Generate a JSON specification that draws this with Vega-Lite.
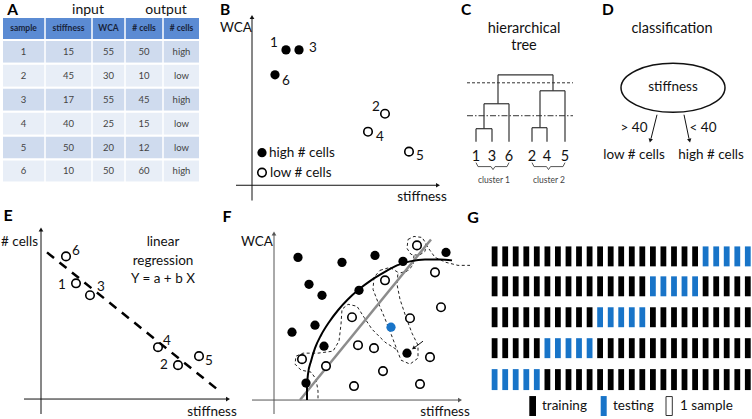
{
"$schema":"https://vega.github.io/schema/vega-lite/v6.json",
"width":752,"height":419,
"autosize":{"type":"fit","contains":"padding"},
"padding":0,
"background":"white",
"config":{"view":{"stroke":null},"font":"Lato"},
"resolve":{"scale":{"color":"independent"}},
"datasets":{
"bars":[
{"x":491.7,"x2":497.5,"y":247,"y2":267,"k":"tr"},{"x":502.3,"x2":508.1,"y":247,"y2":267,"k":"tr"},{"x":512.8,"x2":518.6,"y":247,"y2":267,"k":"tr"},{"x":523.4,"x2":529.2,"y":247,"y2":267,"k":"tr"},{"x":533.9,"x2":539.7,"y":247,"y2":267,"k":"tr"},
{"x":544.5,"x2":550.3,"y":247,"y2":267,"k":"tr"},{"x":555.0,"x2":560.8,"y":247,"y2":267,"k":"tr"},{"x":565.6,"x2":571.4,"y":247,"y2":267,"k":"tr"},{"x":576.1,"x2":581.9,"y":247,"y2":267,"k":"tr"},{"x":586.7,"x2":592.5,"y":247,"y2":267,"k":"tr"},
{"x":597.2,"x2":603.0,"y":247,"y2":267,"k":"tr"},{"x":607.8,"x2":613.6,"y":247,"y2":267,"k":"tr"},{"x":618.3,"x2":624.1,"y":247,"y2":267,"k":"tr"},{"x":628.9,"x2":634.7,"y":247,"y2":267,"k":"tr"},{"x":639.4,"x2":645.2,"y":247,"y2":267,"k":"tr"},
{"x":650.0,"x2":655.8,"y":247,"y2":267,"k":"tr"},{"x":660.5,"x2":666.3,"y":247,"y2":267,"k":"tr"},{"x":671.1,"x2":676.9,"y":247,"y2":267,"k":"tr"},{"x":681.6,"x2":687.4,"y":247,"y2":267,"k":"tr"},{"x":692.2,"x2":698.0,"y":247,"y2":267,"k":"tr"},
{"x":702.7,"x2":708.5,"y":247,"y2":267,"k":"te"},{"x":713.3,"x2":719.1,"y":247,"y2":267,"k":"te"},{"x":723.8,"x2":729.6,"y":247,"y2":267,"k":"te"},{"x":734.4,"x2":740.2,"y":247,"y2":267,"k":"te"},{"x":744.9,"x2":750.7,"y":247,"y2":267,"k":"te"},
{"x":491.7,"x2":497.5,"y":277,"y2":297,"k":"tr"},{"x":502.3,"x2":508.1,"y":277,"y2":297,"k":"tr"},{"x":512.8,"x2":518.6,"y":277,"y2":297,"k":"tr"},{"x":523.4,"x2":529.2,"y":277,"y2":297,"k":"tr"},{"x":533.9,"x2":539.7,"y":277,"y2":297,"k":"tr"},
{"x":544.5,"x2":550.3,"y":277,"y2":297,"k":"tr"},{"x":555.0,"x2":560.8,"y":277,"y2":297,"k":"tr"},{"x":565.6,"x2":571.4,"y":277,"y2":297,"k":"tr"},{"x":576.1,"x2":581.9,"y":277,"y2":297,"k":"tr"},{"x":586.7,"x2":592.5,"y":277,"y2":297,"k":"tr"},
{"x":597.2,"x2":603.0,"y":277,"y2":297,"k":"tr"},{"x":607.8,"x2":613.6,"y":277,"y2":297,"k":"tr"},{"x":618.3,"x2":624.1,"y":277,"y2":297,"k":"tr"},{"x":628.9,"x2":634.7,"y":277,"y2":297,"k":"tr"},{"x":639.4,"x2":645.2,"y":277,"y2":297,"k":"tr"},
{"x":650.0,"x2":655.8,"y":277,"y2":297,"k":"te"},{"x":660.5,"x2":666.3,"y":277,"y2":297,"k":"te"},{"x":671.1,"x2":676.9,"y":277,"y2":297,"k":"te"},{"x":681.6,"x2":687.4,"y":277,"y2":297,"k":"te"},{"x":692.2,"x2":698.0,"y":277,"y2":297,"k":"te"},
{"x":702.7,"x2":708.5,"y":277,"y2":297,"k":"tr"},{"x":713.3,"x2":719.1,"y":277,"y2":297,"k":"tr"},{"x":723.8,"x2":729.6,"y":277,"y2":297,"k":"tr"},{"x":734.4,"x2":740.2,"y":277,"y2":297,"k":"tr"},{"x":744.9,"x2":750.7,"y":277,"y2":297,"k":"tr"},
{"x":491.7,"x2":497.5,"y":308,"y2":328,"k":"tr"},{"x":502.3,"x2":508.1,"y":308,"y2":328,"k":"tr"},{"x":512.8,"x2":518.6,"y":308,"y2":328,"k":"tr"},{"x":523.4,"x2":529.2,"y":308,"y2":328,"k":"tr"},{"x":533.9,"x2":539.7,"y":308,"y2":328,"k":"tr"},
{"x":544.5,"x2":550.3,"y":308,"y2":328,"k":"tr"},{"x":555.0,"x2":560.8,"y":308,"y2":328,"k":"tr"},{"x":565.6,"x2":571.4,"y":308,"y2":328,"k":"tr"},{"x":576.1,"x2":581.9,"y":308,"y2":328,"k":"tr"},{"x":586.7,"x2":592.5,"y":308,"y2":328,"k":"tr"},
{"x":597.2,"x2":603.0,"y":308,"y2":328,"k":"te"},{"x":607.8,"x2":613.6,"y":308,"y2":328,"k":"te"},{"x":618.3,"x2":624.1,"y":308,"y2":328,"k":"te"},{"x":628.9,"x2":634.7,"y":308,"y2":328,"k":"te"},{"x":639.4,"x2":645.2,"y":308,"y2":328,"k":"te"},
{"x":650.0,"x2":655.8,"y":308,"y2":328,"k":"tr"},{"x":660.5,"x2":666.3,"y":308,"y2":328,"k":"tr"},{"x":671.1,"x2":676.9,"y":308,"y2":328,"k":"tr"},{"x":681.6,"x2":687.4,"y":308,"y2":328,"k":"tr"},{"x":692.2,"x2":698.0,"y":308,"y2":328,"k":"tr"},
{"x":702.7,"x2":708.5,"y":308,"y2":328,"k":"tr"},{"x":713.3,"x2":719.1,"y":308,"y2":328,"k":"tr"},{"x":723.8,"x2":729.6,"y":308,"y2":328,"k":"tr"},{"x":734.4,"x2":740.2,"y":308,"y2":328,"k":"tr"},{"x":744.9,"x2":750.7,"y":308,"y2":328,"k":"tr"},
{"x":491.7,"x2":497.5,"y":339,"y2":359,"k":"tr"},{"x":502.3,"x2":508.1,"y":339,"y2":359,"k":"tr"},{"x":512.8,"x2":518.6,"y":339,"y2":359,"k":"tr"},{"x":523.4,"x2":529.2,"y":339,"y2":359,"k":"tr"},{"x":533.9,"x2":539.7,"y":339,"y2":359,"k":"tr"},
{"x":544.5,"x2":550.3,"y":339,"y2":359,"k":"te"},{"x":555.0,"x2":560.8,"y":339,"y2":359,"k":"te"},{"x":565.6,"x2":571.4,"y":339,"y2":359,"k":"te"},{"x":576.1,"x2":581.9,"y":339,"y2":359,"k":"te"},{"x":586.7,"x2":592.5,"y":339,"y2":359,"k":"te"},
{"x":597.2,"x2":603.0,"y":339,"y2":359,"k":"tr"},{"x":607.8,"x2":613.6,"y":339,"y2":359,"k":"tr"},{"x":618.3,"x2":624.1,"y":339,"y2":359,"k":"tr"},{"x":628.9,"x2":634.7,"y":339,"y2":359,"k":"tr"},{"x":639.4,"x2":645.2,"y":339,"y2":359,"k":"tr"},
{"x":650.0,"x2":655.8,"y":339,"y2":359,"k":"tr"},{"x":660.5,"x2":666.3,"y":339,"y2":359,"k":"tr"},{"x":671.1,"x2":676.9,"y":339,"y2":359,"k":"tr"},{"x":681.6,"x2":687.4,"y":339,"y2":359,"k":"tr"},{"x":692.2,"x2":698.0,"y":339,"y2":359,"k":"tr"},
{"x":702.7,"x2":708.5,"y":339,"y2":359,"k":"tr"},{"x":713.3,"x2":719.1,"y":339,"y2":359,"k":"tr"},{"x":723.8,"x2":729.6,"y":339,"y2":359,"k":"tr"},{"x":734.4,"x2":740.2,"y":339,"y2":359,"k":"tr"},{"x":744.9,"x2":750.7,"y":339,"y2":359,"k":"tr"},
{"x":491.7,"x2":497.5,"y":370,"y2":391,"k":"te"},{"x":502.3,"x2":508.1,"y":370,"y2":391,"k":"te"},{"x":512.8,"x2":518.6,"y":370,"y2":391,"k":"te"},{"x":523.4,"x2":529.2,"y":370,"y2":391,"k":"te"},{"x":533.9,"x2":539.7,"y":370,"y2":391,"k":"te"},
{"x":544.5,"x2":550.3,"y":370,"y2":391,"k":"tr"},{"x":555.0,"x2":560.8,"y":370,"y2":391,"k":"tr"},{"x":565.6,"x2":571.4,"y":370,"y2":391,"k":"tr"},{"x":576.1,"x2":581.9,"y":370,"y2":391,"k":"tr"},{"x":586.7,"x2":592.5,"y":370,"y2":391,"k":"tr"},
{"x":597.2,"x2":603.0,"y":370,"y2":391,"k":"tr"},{"x":607.8,"x2":613.6,"y":370,"y2":391,"k":"tr"},{"x":618.3,"x2":624.1,"y":370,"y2":391,"k":"tr"},{"x":628.9,"x2":634.7,"y":370,"y2":391,"k":"tr"},{"x":639.4,"x2":645.2,"y":370,"y2":391,"k":"tr"},
{"x":650.0,"x2":655.8,"y":370,"y2":391,"k":"tr"},{"x":660.5,"x2":666.3,"y":370,"y2":391,"k":"tr"},{"x":671.1,"x2":676.9,"y":370,"y2":391,"k":"tr"},{"x":681.6,"x2":687.4,"y":370,"y2":391,"k":"tr"},{"x":692.2,"x2":698.0,"y":370,"y2":391,"k":"tr"},
{"x":702.7,"x2":708.5,"y":370,"y2":391,"k":"tr"},{"x":713.3,"x2":719.1,"y":370,"y2":391,"k":"tr"},{"x":723.8,"x2":729.6,"y":370,"y2":391,"k":"tr"},{"x":734.4,"x2":740.2,"y":370,"y2":391,"k":"tr"},{"x":744.9,"x2":750.7,"y":370,"y2":391,"k":"tr"},
{"x":529.3,"x2":536,"y":397,"y2":417,"k":"tr"},{"x":600.7,"x2":606.7,"y":397,"y2":417,"k":"te"}
]
},
"encoding":{
"x":{"field":"x","type":"quantitative","scale":{"domain":[0,752],"nice":false,"zero":false},"axis":null},
"y":{"field":"y","type":"quantitative","scale":{"domain":[0,419],"reverse":true,"nice":false,"zero":false},"axis":null}
},
"layer":[
{"data":{"values":[
{"x":2,"x2":200,"y":17,"y2":40,"k":"h"},{"x":2,"x2":200,"y":40,"y2":64,"k":"a"},{"x":2,"x2":200,"y":64,"y2":88,"k":"b"},{"x":2,"x2":200,"y":88,"y2":112,"k":"a"},{"x":2,"x2":200,"y":112,"y2":136,"k":"b"},{"x":2,"x2":200,"y":136,"y2":160,"k":"a"},{"x":2,"x2":200,"y":160,"y2":183,"k":"b"}]},
"mark":{"type":"rect","stroke":"white","strokeWidth":2},
"encoding":{"x2":{"field":"x2"},"y2":{"field":"y2"},"color":{"field":"k","type":"nominal","scale":{"domain":["h","a","b"],"range":["#5b8bd3","#cfdbee","#e8eef7"]},"legend":null}}},
{"data":{"values":[{"x":45,"y":17,"x2":45,"y2":183},{"x":92,"y":17,"x2":92,"y2":183},{"x":125,"y":17,"x2":125,"y2":183},{"x":163,"y":17,"x2":163,"y2":183}]},
"mark":{"type":"rule","color":"white","strokeWidth":1.5},
"encoding":{"x2":{"field":"x2"},"y2":{"field":"y2"}}},
{"data":{"values":[{"x":23.5,"y":28.5,"t":"sample"},{"x":68.5,"y":28.5,"t":"stiffness"},{"x":108.5,"y":28.5,"t":"WCA"},{"x":144,"y":28.5,"t":"# cells"},{"x":181.5,"y":28.5,"t":"# cells"}]},
"mark":{"type":"text","fontSize":8.5,"fontWeight":"bold","color":"#18233a","align":"center","baseline":"middle"},
"encoding":{"text":{"field":"t"}}},
{"data":{"values":[
{"x":23.5,"y":52,"t":"1"},{"x":68.5,"y":52,"t":"15"},{"x":108.5,"y":52,"t":"55"},{"x":144,"y":52,"t":"50"},{"x":181.5,"y":52,"t":"high"},
{"x":23.5,"y":76,"t":"2"},{"x":68.5,"y":76,"t":"45"},{"x":108.5,"y":76,"t":"30"},{"x":144,"y":76,"t":"10"},{"x":181.5,"y":76,"t":"low"},
{"x":23.5,"y":100,"t":"3"},{"x":68.5,"y":100,"t":"17"},{"x":108.5,"y":100,"t":"55"},{"x":144,"y":100,"t":"45"},{"x":181.5,"y":100,"t":"high"},
{"x":23.5,"y":124,"t":"4"},{"x":68.5,"y":124,"t":"40"},{"x":108.5,"y":124,"t":"25"},{"x":144,"y":124,"t":"15"},{"x":181.5,"y":124,"t":"low"},
{"x":23.5,"y":148,"t":"5"},{"x":68.5,"y":148,"t":"50"},{"x":108.5,"y":148,"t":"20"},{"x":144,"y":148,"t":"12"},{"x":181.5,"y":148,"t":"low"},
{"x":23.5,"y":171.5,"t":"6"},{"x":68.5,"y":171.5,"t":"10"},{"x":108.5,"y":171.5,"t":"50"},{"x":144,"y":171.5,"t":"60"},{"x":181.5,"y":171.5,"t":"high"}]},
"mark":{"type":"text","fontSize":9.5,"color":"#444444","align":"center","baseline":"middle"},
"encoding":{"text":{"field":"t"}}},
{"data":{"values":[{"x":12.5,"y":3,"t":"A"},{"x":225,"y":3,"t":"B"},{"x":466,"y":3,"t":"C"},{"x":608,"y":3,"t":"D"}]},
"mark":{"type":"text","fontSize":15.5,"fontWeight":"bold","color":"#000000","align":"center","baseline":"top"},
"encoding":{"text":{"field":"t"}}},
{"data":{"values":[{"x":8,"y":217,"t":"E"},{"x":227,"y":218,"t":"F"},{"x":473,"y":219,"t":"G"}]},
"mark":{"type":"text","fontSize":16,"fontWeight":"bold","color":"#000000","align":"center","baseline":"middle"},
"encoding":{"text":{"field":"t"}}},
{"data":{"values":[{"x":88,"y":3,"t":"input"},{"x":166,"y":3,"t":"output"}]},
"mark":{"type":"text","fontSize":14,"color":"#111111","align":"center","baseline":"top"},
"encoding":{"text":{"field":"t"}}},
{"data":{"values":[{"x":524,"y":29,"t":"hierarchical"},{"x":524,"y":46,"t":"tree"},{"x":672,"y":29,"t":"classification"},
{"x":476,"y":157,"t":"1"},{"x":492,"y":157,"t":"3"},{"x":509,"y":157,"t":"6"},{"x":532,"y":157,"t":"2"},{"x":547,"y":157,"t":"4"},{"x":565,"y":157,"t":"5"}]},
"mark":{"type":"text","fontSize":14.5,"color":"#111111","align":"center","baseline":"middle"},
"encoding":{"text":{"field":"t"}}},
{"data":{"values":[{"x":236,"y":28,"t":"WCA"},{"x":422,"y":197,"t":"stiffness"},
{"x":274,"y":43,"t":"1"},{"x":313,"y":48,"t":"3"},{"x":286,"y":81,"t":"6"},{"x":376,"y":107,"t":"2"},{"x":380,"y":137,"t":"4"},{"x":420,"y":156,"t":"5"},
{"x":673,"y":87,"t":"stiffness"},{"x":634,"y":128,"t":"> 40"},{"x":703,"y":128,"t":"< 40"},{"x":634,"y":155,"t":"low # cells"},{"x":711,"y":155,"t":"high # cells"},
{"x":19.5,"y":243,"t":"# cells"},{"x":212,"y":413,"t":"stiffness"},
{"x":76,"y":252,"t":"6"},{"x":62,"y":286,"t":"1"},{"x":101,"y":288,"t":"3"},{"x":167,"y":342,"t":"4"},{"x":164,"y":366,"t":"2"},{"x":209,"y":362,"t":"5"},
{"x":163,"y":243,"t":"linear"},{"x":163,"y":262,"t":"regression"},{"x":163,"y":280,"t":"Y = a + b X"},
{"x":257,"y":243,"t":"WCA"},{"x":445,"y":413,"t":"stiffness"}]},
"mark":{"type":"text","fontSize":13.5,"color":"#111111","align":"center","baseline":"middle"},
"encoding":{"text":{"field":"t"}}},
{"data":{"values":[{"x":269,"y":153,"t":"high # cells"},{"x":270,"y":173,"t":"low # cells"},{"x":542,"y":407,"t":"training"},{"x":613,"y":407,"t":"testing"},{"x":680,"y":407,"t":"1 sample"}]},
"mark":{"type":"text","fontSize":13.5,"color":"#111111","align":"left","baseline":"middle"},
"encoding":{"text":{"field":"t"}}},
{"data":{"values":[{"x":494,"y":180,"t":"cluster 1"},{"x":549,"y":180,"t":"cluster 2"}]},
"mark":{"type":"text","fontSize":8.5,"color":"#444444","align":"center","baseline":"middle"},
"encoding":{"text":{"field":"t"}}},
{"data":{"values":[{"x":252,"y":17,"x2":252,"y2":201},{"x":236,"y":185.7,"x2":438,"y2":185.7},{"x":41,"y":230,"x2":41,"y2":415},{"x":24,"y":400,"x2":228,"y2":400}]},
"mark":{"type":"rule","color":"#111111","strokeWidth":1},
"encoding":{"x2":{"field":"x2"},"y2":{"field":"y2"}}},
{"data":{"values":[{"x":274,"y":234,"x2":274,"y2":415},{"x":252,"y":401,"x2":460,"y2":401}]},
"mark":{"type":"rule","color":"#555555","strokeWidth":1},
"encoding":{"x2":{"field":"x2"},"y2":{"field":"y2"}}},
{"data":{"values":[{"x":252,"y":17},{"x":41,"y":230}]},
"mark":{"type":"point","shape":"triangle-up","filled":true,"size":22,"color":"#111111","opacity":1}},
{"data":{"values":[{"x":438,"y":185.7},{"x":228,"y":400}]},
"mark":{"type":"point","shape":"triangle-right","filled":true,"size":22,"color":"#111111","opacity":1}},
{"data":{"values":[{"x":274,"y":234}]},
"mark":{"type":"point","shape":"triangle-up","filled":true,"size":22,"color":"#555555","opacity":1}},
{"data":{"values":[{"x":460,"y":401}]},
"mark":{"type":"point","shape":"triangle-right","filled":true,"size":22,"color":"#555555","opacity":1}},
{"data":{"values":[
{"x":498,"y":75,"x2":553,"y2":75},{"x":498,"y":75,"x2":498,"y2":104},{"x":484,"y":104,"x2":509,"y2":104},{"x":484,"y":104,"x2":484,"y2":129},{"x":476,"y":129,"x2":492,"y2":129},{"x":476,"y":129,"x2":476,"y2":142},{"x":492,"y":129,"x2":492,"y2":142},{"x":509,"y":104,"x2":509,"y2":142},
{"x":553,"y":75,"x2":553,"y2":91},{"x":540,"y":91,"x2":565,"y2":91},{"x":540,"y":91,"x2":540,"y2":128},{"x":532,"y":128,"x2":547,"y2":128},{"x":532,"y":128,"x2":532,"y2":142},{"x":547,"y":128,"x2":547,"y2":142},{"x":565,"y":91,"x2":565,"y2":142}]},
"mark":{"type":"rule","color":"#333333","strokeWidth":1.2},
"encoding":{"x2":{"field":"x2"},"y2":{"field":"y2"}}},
{"data":{"values":[{"x":467,"y":83,"x2":573,"y2":83}]},
"mark":{"type":"rule","color":"#333333","strokeWidth":1,"strokeDash":[3,2]},
"encoding":{"x2":{"field":"x2"},"y2":{"field":"y2"}}},
{"data":{"values":[{"x":467,"y":116,"x2":573,"y2":116}]},
"mark":{"type":"rule","color":"#333333","strokeWidth":1,"strokeDash":[6,2,1.5,2]},
"encoding":{"x2":{"field":"x2"},"y2":{"field":"y2"}}},
{"data":{"values":[
{"g":1,"x":476,"y":163},{"g":1,"x":478,"y":167},{"g":1,"x":491,"y":167},{"g":1,"x":493,"y":170},{"g":1,"x":495,"y":167},{"g":1,"x":507,"y":167},{"g":1,"x":509,"y":163},
{"g":2,"x":532,"y":163},{"g":2,"x":534,"y":167},{"g":2,"x":546.5,"y":167},{"g":2,"x":548.5,"y":170},{"g":2,"x":550.5,"y":167},{"g":2,"x":563,"y":167},{"g":2,"x":565,"y":163}]},
"mark":{"type":"line","color":"#555555","strokeWidth":1},
"encoding":{"detail":{"field":"g"},"order":{"value":null}}},
{"data":{"values":[{"x":673,"y":88}]},
"mark":{"type":"point","shape":"M-1,0A1,0.471,0,1,1,1,0A1,0.471,0,1,1,-1,0Z","size":10816,"filled":false,"stroke":"#111111","strokeWidth":1.5,"opacity":1}},
{"data":{"values":[{"x":657,"y":115,"x2":651,"y2":139},{"x":684,"y":115,"x2":689,"y2":139},{"x":423,"y":342,"x2":415,"y2":348}]},
"mark":{"type":"rule","color":"#111111","strokeWidth":1},
"encoding":{"x2":{"field":"x2"},"y2":{"field":"y2"}}},
{"data":{"values":[{"x":650.3,"y":141}]},
"mark":{"type":"point","shape":"triangle-up","filled":true,"size":20,"color":"#111111","angle":194,"opacity":1}},
{"data":{"values":[{"x":689.6,"y":141}]},
"mark":{"type":"point","shape":"triangle-up","filled":true,"size":20,"color":"#111111","angle":167,"opacity":1}},
{"data":{"values":[{"x":413.5,"y":349}]},
"mark":{"type":"point","shape":"triangle-up","filled":true,"size":18,"color":"#111111","angle":235,"opacity":1}},
{"data":{"values":[{"x":286,"y":50},{"x":299,"y":50},{"x":275,"y":75},{"x":262,"y":153}]},
"mark":{"type":"circle","size":85,"color":"#000000","opacity":1}},
{"data":{"values":[{"x":385,"y":114},{"x":368,"y":132},{"x":409,"y":152},{"x":262,"y":173}]},
"mark":{"type":"circle","size":72,"fill":"white","stroke":"#000000","strokeWidth":1.6,"opacity":1}},
{"data":{"values":[{"x":66,"y":257},{"x":76,"y":284},{"x":90,"y":296},{"x":158,"y":348},{"x":178,"y":366},{"x":199,"y":357}]},
"mark":{"type":"circle","size":72,"fill":"white","stroke":"#000000","strokeWidth":1.6,"opacity":1}},
{"data":{"values":[{"x":47,"y":253,"x2":217,"y2":390}]},
"mark":{"type":"rule","color":"#000000","strokeWidth":2.5,"strokeDash":[9,7]},
"encoding":{"x2":{"field":"x2"},"y2":{"field":"y2"}}},
{"data":{"values":[
{"g":1,"x":408,"y":240},{"g":1,"x":414,"y":237},{"g":1,"x":422,"y":238},{"g":1,"x":426,"y":244},{"g":1,"x":425,"y":252},{"g":1,"x":419,"y":256},{"g":1,"x":411,"y":255},{"g":1,"x":407,"y":249},{"g":1,"x":408,"y":240},
{"g":2,"x":426,"y":245},{"g":2,"x":430,"y":251},{"g":2,"x":435,"y":258},{"g":2,"x":446,"y":263},{"g":2,"x":458,"y":266},{"g":2,"x":470,"y":266},
{"g":3,"x":414,"y":256},{"g":3,"x":413,"y":266},{"g":3,"x":407,"y":272},{"g":3,"x":398,"y":274},
{"g":4,"x":380,"y":271},{"g":4,"x":390,"y":268},{"g":4,"x":398,"y":273},{"g":4,"x":397,"y":285},{"g":4,"x":400,"y":300},{"g":4,"x":406,"y":318},{"g":4,"x":412,"y":334},{"g":4,"x":418,"y":346},{"g":4,"x":418,"y":359},{"g":4,"x":410,"y":365},{"g":4,"x":401,"y":361},{"g":4,"x":396,"y":348},{"g":4,"x":390,"y":332},{"g":4,"x":384,"y":317},{"g":4,"x":378,"y":303},{"g":4,"x":373,"y":290},{"g":4,"x":374,"y":278},{"g":4,"x":380,"y":271},
{"g":5,"x":396,"y":350},{"g":5,"x":385,"y":343},{"g":5,"x":372,"y":330},{"g":5,"x":364,"y":318},{"g":5,"x":357,"y":307},{"g":5,"x":348,"y":305},{"g":5,"x":342,"y":310},{"g":5,"x":341,"y":325},{"g":5,"x":339,"y":342},{"g":5,"x":333,"y":352},{"g":5,"x":318,"y":354},{"g":5,"x":303,"y":354},{"g":5,"x":296,"y":357},{"g":5,"x":295,"y":365},{"g":5,"x":301,"y":371},{"g":5,"x":311,"y":373},{"g":5,"x":316,"y":380},{"g":5,"x":318,"y":392},{"g":5,"x":318,"y":401}]},
"mark":{"type":"line","color":"#222222","strokeWidth":1,"strokeDash":[3,2.5]},
"encoding":{"detail":{"field":"g"},"order":{"value":null}}},
{"data":{"values":[{"x":300,"y":401,"x2":431,"y2":240}]},
"mark":{"type":"rule","color":"#8c8c8c","strokeWidth":2.5},
"encoding":{"x2":{"field":"x2"},"y2":{"field":"y2"}}},
{"data":{"values":[{"x":307,"y":401},{"x":307,"y":388},{"x":308,"y":375},{"x":311,"y":362},{"x":315,"y":349},{"x":321,"y":336},{"x":329,"y":323},{"x":338,"y":311},{"x":348,"y":300},{"x":359,"y":290},{"x":371,"y":281},{"x":384,"y":273},{"x":397,"y":266},{"x":410,"y":262},{"x":425,"y":260},{"x":440,"y":260},{"x":452,"y":261}]},
"mark":{"type":"line","color":"#000000","strokeWidth":2,"interpolate":"monotone"},
"encoding":{"order":{"value":null}}},
{"data":{"values":[{"x":298,"y":258},{"x":342,"y":263},{"x":375,"y":256},{"x":403,"y":262},{"x":446,"y":253},{"x":309,"y":285},{"x":322,"y":296},{"x":359,"y":291},{"x":292,"y":333},{"x":315,"y":326},{"x":324,"y":347},{"x":407,"y":354},{"x":306,"y":384}]},
"mark":{"type":"circle","size":85,"color":"#000000","opacity":1}},
{"data":{"values":[{"x":391,"y":328}]},
"mark":{"type":"circle","size":85,"color":"#1874c8","opacity":1}},
{"data":{"values":[{"x":417,"y":246},{"x":435,"y":273},{"x":385,"y":281},{"x":441,"y":308},{"x":352,"y":318},{"x":410,"y":319},{"x":358,"y":346},{"x":374,"y":349},{"x":302,"y":360},{"x":326,"y":367},{"x":430,"y":358},{"x":383,"y":372},{"x":354,"y":387},{"x":420,"y":385}]},
"mark":{"type":"circle","size":72,"fill":"white","stroke":"#000000","strokeWidth":1.6,"opacity":1}},
{"data":{"name":"bars"},
"mark":{"type":"rect"},
"encoding":{"x2":{"field":"x2"},"y2":{"field":"y2"},"color":{"field":"k","type":"nominal","scale":{"domain":["tr","te"],"range":["#000000","#1874c8"]},"legend":null}}},
{"data":{"values":[{"x":666,"x2":672.3,"y":397.5,"y2":416.5}]},
"mark":{"type":"rect","fill":"white","stroke":"#333333","strokeWidth":1},
"encoding":{"x2":{"field":"x2"},"y2":{"field":"y2"}}}
]
}
